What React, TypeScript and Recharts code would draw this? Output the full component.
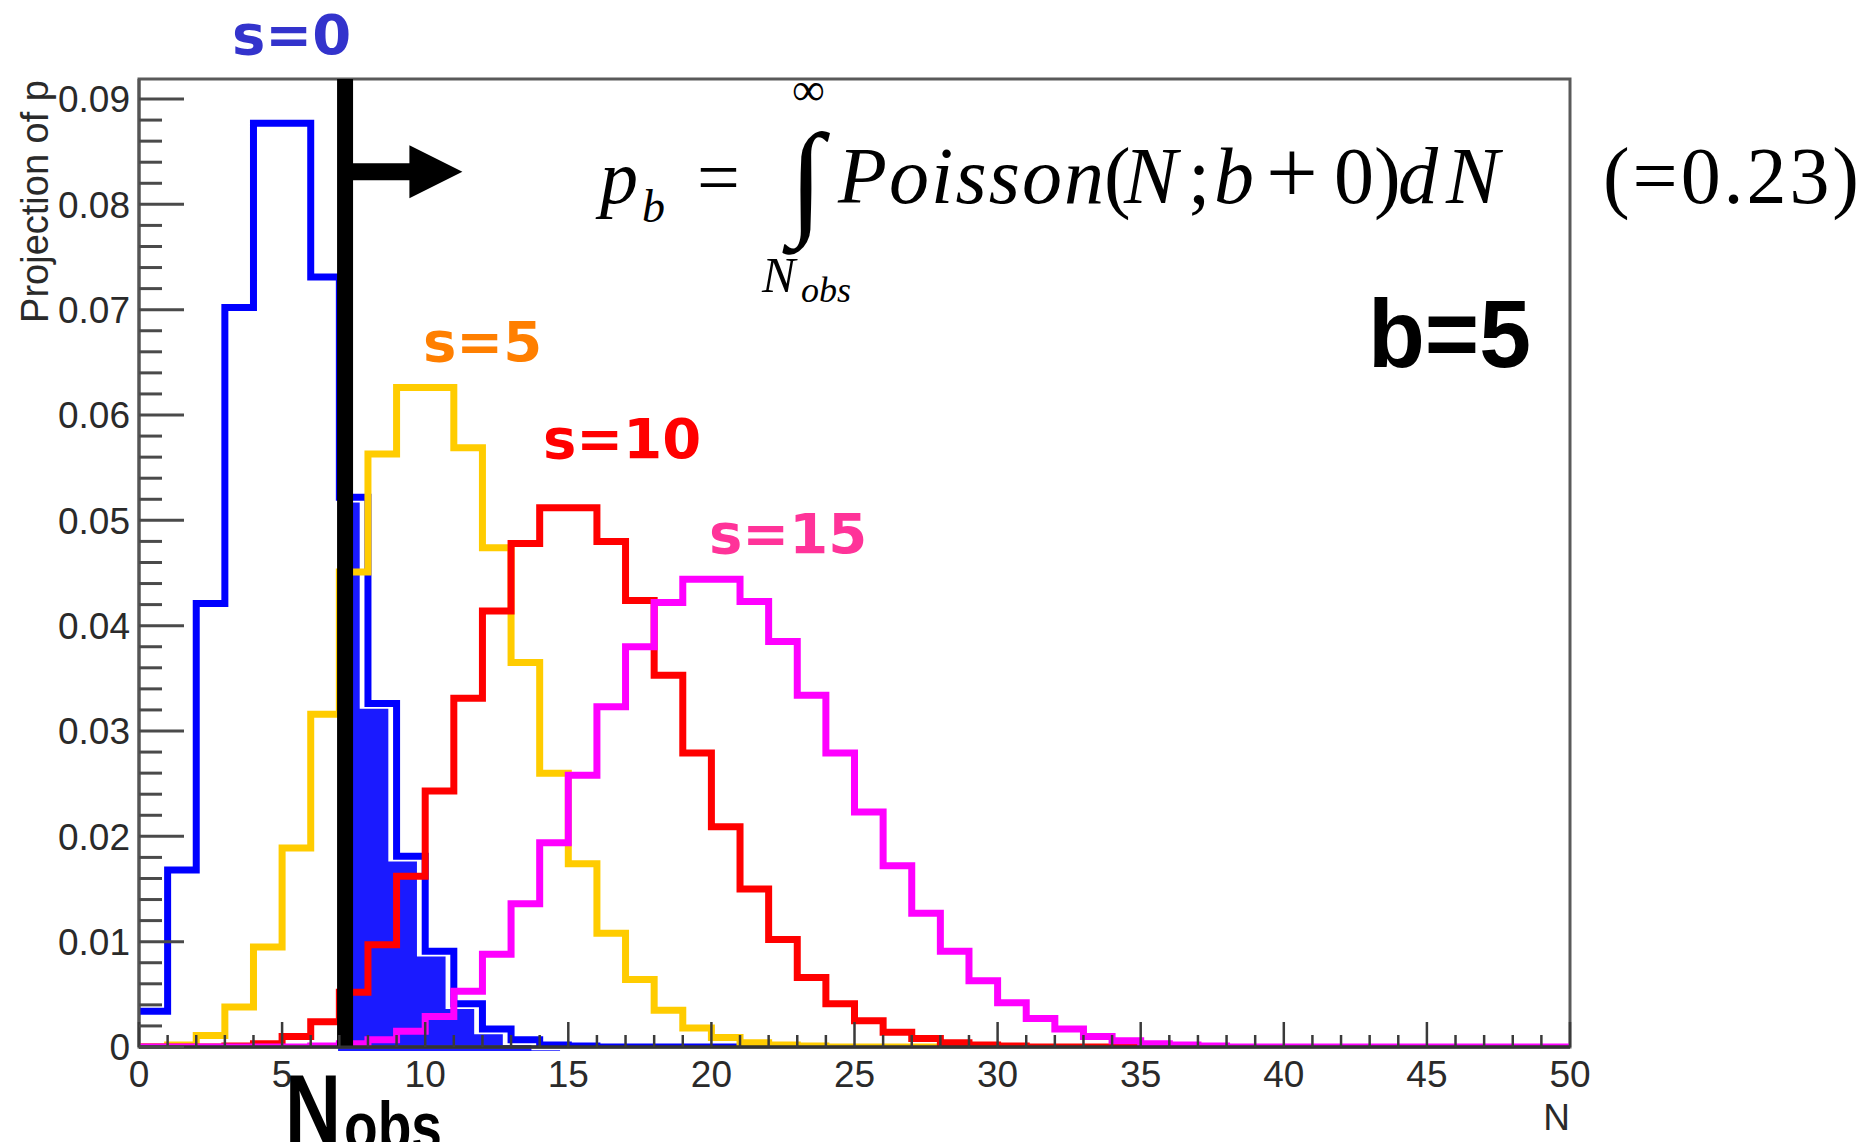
import React from 'react';
import { ComposedChart, Line, Area, XAxis, YAxis, ReferenceLine, ReferenceArea } from 'recharts';

// bin lower edges, N = 0..50
const bins = [
  0, 1, 2, 3, 4, 5, 6, 7, 8, 9, 10, 11, 12, 13, 14, 15, 16, 17, 18, 19, 20, 21, 22, 23, 24, 25,
  26, 27, 28, 29, 30, 31, 32, 33, 34, 35, 36, 37, 38, 39, 40, 41, 42, 43, 44, 45, 46, 47, 48, 49, 50,
];

// s=0 (blue)
const s0 = [
  0.0034, 0.0168, 0.0421, 0.0702, 0.0877, 0.0877, 0.0731, 0.0522, 0.0326, 0.0181, 0.0091, 0.0041,
  0.0017, 0.0007, 0.0002, 0.0001, 0, 0, 0, 0, 0, 0, 0, 0,
  null, null, null, null, null, null, null, null, null, null, null, null, null, null, null, null,
  null, null, null, null, null, null, null, null, null, null, null,
];

// s=5 (yellow)
const s5 = [
  0, 0.0002, 0.0011, 0.0038, 0.0095, 0.0189, 0.0316, 0.0451, 0.0563, 0.0626, 0.0626, 0.0569,
  0.0474, 0.0365, 0.026, 0.0174, 0.0108, 0.0064, 0.0035, 0.0018, 0.0009, 0.0004, 0.0002, 0.0001,
  0, 0, 0, 0, 0, 0, 0,
  null, null, null, null, null, null, null, null, null, null, null, null, null, null, null, null,
  null, null, null, null,
];

// s=10 (red)
const s10 = [
  0, 0, 0, 0.0001, 0.0003, 0.001, 0.0024, 0.0052, 0.0097, 0.0162, 0.0243, 0.0331, 0.0414, 0.0478,
  0.0512, 0.0512, 0.048, 0.0424, 0.0353, 0.0279, 0.0209, 0.015, 0.0102, 0.0066, 0.0041, 0.0025,
  0.0014, 0.0008, 0.0004, 0.0002, 0.0001, 0, 0, 0, 0, 0, 0,
  null, null, null, null, null, null, null, null, null, null, null, null, null, null,
];

// s=15 (magenta)
const s15 = [
  0, 0, 0, 0, 0, 0, 0.0001, 0.0003, 0.0007, 0.0015, 0.0029, 0.0053, 0.0088, 0.0136, 0.0194,
  0.0258, 0.0323, 0.038, 0.0422, 0.0444, 0.0444, 0.0423, 0.0385, 0.0334, 0.0279, 0.0223, 0.0172,
  0.0127, 0.0091, 0.0063, 0.0042, 0.0027, 0.0017, 0.001, 0.0006, 0.0003, 0.0002, 0.0001,
  0, 0, 0, 0, 0, 0, 0, 0, 0, 0, 0, 0, 0,
];

// shaded tail of s=0 above N_obs
const shadeN = [7.2, 8, 9, 10, 11, 12, 13, 14, 15];
const shadeP = [0.0522, 0.0326, 0.0181, 0.0091, 0.0041, 0.0017, 0.0007, 0.0002, 0];

const N_OBS = 7.2;

const yTicks = [
  0, 0.002, 0.004, 0.006, 0.008, 0.01, 0.012, 0.014, 0.016, 0.018, 0.02, 0.022, 0.024, 0.026,
  0.028, 0.03, 0.032, 0.034, 0.036, 0.038, 0.04, 0.042, 0.044, 0.046, 0.048, 0.05, 0.052, 0.054,
  0.056, 0.058, 0.06, 0.062, 0.064, 0.066, 0.068, 0.07, 0.072, 0.074, 0.076, 0.078, 0.08, 0.082,
  0.084, 0.086, 0.088, 0.09,
];
const xTicks = bins;

const table = bins.map((n, i) => ({ n, s0: s0[i], s5: s5[i], s10: s10[i], s15: s15[i] }));
const shade = shadeN.map((n, i) => ({ n, p: shadeP[i] }));

const AXIS_FONT = '"Liberation Sans", Arial, sans-serif';

const YTick = (props: any) => {
  const { x, y, payload } = props;
  const v = payload.value as number;
  const major = Math.abs(v * 100 - Math.round(v * 100)) < 1e-6;
  return (
    <g>
      <line x1={x} x2={x + (major ? 45 : 23)} y1={y} y2={y} stroke="#4a4a4a" strokeWidth={3} />
      {major && (
        <text x={x - 9} y={y} dy="0.36em" textAnchor="end" fontFamily={AXIS_FONT} fontSize={37} fill="#2a2a2a">
          {v === 0 ? '0' : v.toFixed(2)}
        </text>
      )}
    </g>
  );
};

const XTick = (props: any) => {
  const { x, y, payload } = props;
  const v = payload.value as number;
  const major = v % 5 === 0;
  return (
    <g>
      <line x1={x} x2={x} y1={y} y2={y - (major ? 25 : 12)} stroke="#3a3a3a" strokeWidth={2.5} />
      {major && (
        <text x={x} y={y + 40} textAnchor="middle" fontFamily={AXIS_FONT} fontSize={37} fill="#2a2a2a">
          {v}
        </text>
      )}
    </g>
  );
};

const Arrow = (p: any) => {
  const { x1, y1, x2 } = p;
  const head = 53;
  const half = 26.5;
  const t = 8.5;
  const d = `M${x1},${y1 - t} L${x2 - head},${y1 - t} L${x2 - head},${y1 - half} L${x2},${y1} L${x2 - head},${y1 + half} L${x2 - head},${y1 + t} L${x1},${y1 + t} Z`;
  return <path d={d} fill="#000" />;
};

const SERIF = '"Liberation Serif", "Times New Roman", serif';
const LABEL = '"DejaVu Sans", Verdana, sans-serif';

// pieces of the integral formula: [text, x, italic, size]
const formulaPieces: [string, number, boolean, number][] = [
  ['(', 1104, false, 80],
  ['N', 1124, true, 80],
  [';', 1188, false, 80],
  ['b', 1214, true, 80],
  ['+', 1266, false, 92],
  ['0', 1334, false, 80],
  [')', 1374, false, 80],
  ['d', 1398, true, 80],
  ['N', 1446, true, 80],
];

export default function App() {
  return (
    <div style={{ position: 'absolute', left: 0, top: 0, width: 1870, height: 1142, background: '#fff', overflow: 'hidden' }}>
      <style>{`.shade-fill { transform: translate(-7px, 4px); }`}</style>
      <ComposedChart
        width={1870}
        height={1142}
        data={table}
        margin={{ top: 79, right: 300, bottom: 45, left: 79 }}
      >
        <XAxis
          dataKey="n"
          type="number"
          domain={[0, 50]}
          ticks={xTicks}
          interval={0}
          tickSize={0}
          tickMargin={0}
          tickLine={false}
          tick={<XTick />}
          axisLine={{ stroke: '#333', strokeWidth: 3 }}
          height={50}
          allowDataOverflow
        />
        <YAxis
          type="number"
          domain={[0, 0.0919]}
          ticks={yTicks}
          interval={0}
          tickSize={0}
          tickMargin={0}
          tickLine={false}
          tick={<YTick />}
          axisLine={{ stroke: '#555', strokeWidth: 3 }}
          width={60}
          allowDataOverflow
        />
        <Area
          className="shade-fill"
          data={shade}
          dataKey="p"
          type="stepAfter"
          fill="#1a1aff"
          fillOpacity={1}
          stroke="#ffffff"
          strokeWidth={2.5}
          isAnimationActive={false}
        />
        <Line dataKey="s0" type="stepAfter" stroke="#0000ff" strokeWidth={7} dot={false} activeDot={false} isAnimationActive={false} />
        <Line dataKey="s5" type="stepAfter" stroke="#ffcc00" strokeWidth={7} dot={false} activeDot={false} isAnimationActive={false} />
        <Line dataKey="s10" type="stepAfter" stroke="#ff0000" strokeWidth={7} dot={false} activeDot={false} isAnimationActive={false} />
        <Line dataKey="s15" type="stepAfter" stroke="#ff00ff" strokeWidth={7} dot={false} activeDot={false} isAnimationActive={false} />
        <ReferenceArea x1={0} x2={50} y1={0} y2={0.0919} fill="none" stroke="#5a5a5a" strokeWidth={3} />
        <ReferenceLine y={0} stroke="#333" strokeWidth={3} />
        <ReferenceLine x={N_OBS} stroke="#000" strokeWidth={16} />
        <ReferenceLine
          segment={[
            { x: N_OBS, y: 0.0831 },
            { x: 11.3, y: 0.0831 },
          ]}
          shape={<Arrow />}
        />
      </ComposedChart>

      <svg width={1870} height={1142} style={{ position: 'absolute', left: 0, top: 0, pointerEvents: 'none' }}>
        {/* axis titles */}
        <text
          transform="translate(48,80) rotate(-90)"
          textAnchor="end"
          fontFamily={AXIS_FONT}
          fontSize={38}
          fill="#2a2a2a"
        >
          Projection of p
        </text>
        <text x={1570} y={1130} textAnchor="end" fontFamily={AXIS_FONT} fontSize={37} fill="#2a2a2a">
          N
        </text>

        {/* series labels */}
        <text x={232} y={54} fontFamily={LABEL} fontWeight="bold" fontSize={56} fill="#3333cc">s=0</text>
        <text x={423} y={361} fontFamily={LABEL} fontWeight="bold" fontSize={56} fill="#ff7f00">s=5</text>
        <text x={543} y={458} fontFamily={LABEL} fontWeight="bold" fontSize={56} fill="#ff0000">s=10</text>
        <text x={709} y={553} fontFamily={LABEL} fontWeight="bold" fontSize={56} fill="#ff3399">s=15</text>

        <text x={1368} y={367} fontFamily={AXIS_FONT} fontWeight="bold" fontSize={97} textLength={163} lengthAdjust="spacingAndGlyphs" fill="#000">
          b=5
        </text>

        {/* N_obs */}
        <text x={285} y={1142} fontFamily={AXIS_FONT} fontWeight="bold" fontSize={96} textLength={56} lengthAdjust="spacingAndGlyphs" fill="#000">
          N
        </text>
        <text x={344} y={1150} fontFamily={AXIS_FONT} fontWeight="bold" fontSize={68} textLength={98} lengthAdjust="spacingAndGlyphs" fill="#000">
          obs
        </text>

        {/* formula */}
        <text x={600} y={203} fontFamily={SERIF} fontStyle="italic" fontSize={76} fill="#000">p</text>
        <text x={642} y={222} fontFamily={SERIF} fontStyle="italic" fontSize={46} fill="#000">b</text>
        <text x={697} y={203} fontFamily={SERIF} fontSize={76} fill="#000">=</text>
        <text x={792} y={105} fontFamily={SERIF} fontSize={46} fill="#000">∞</text>
        <text x={789} y={221} fontFamily={SERIF} fontSize={126} fill="#000">∫</text>
        <text x={762} y={292} fontFamily={SERIF} fontStyle="italic" fontSize={50} fill="#000">N</text>
        <text x={801} y={302} fontFamily={SERIF} fontStyle="italic" fontSize={36} fill="#000">obs</text>
        <text x={838} y={203} fontFamily={SERIF} fontStyle="italic" fontSize={80} fill="#000" textLength={266} lengthAdjust="spacing">
          Poisson
        </text>
        {formulaPieces.map(([t, x, it, fs], i) => (
          <text key={i} x={x} y={203} fontFamily={SERIF} fontStyle={it ? 'italic' : 'normal'} fontSize={fs} fill="#000">
            {t}
          </text>
        ))}
        <text x={1603} y={203} fontFamily={SERIF} fontSize={80} fill="#000" textLength={256} lengthAdjust="spacing">
          (=0.23)
        </text>
      </svg>
    </div>
  );
}
